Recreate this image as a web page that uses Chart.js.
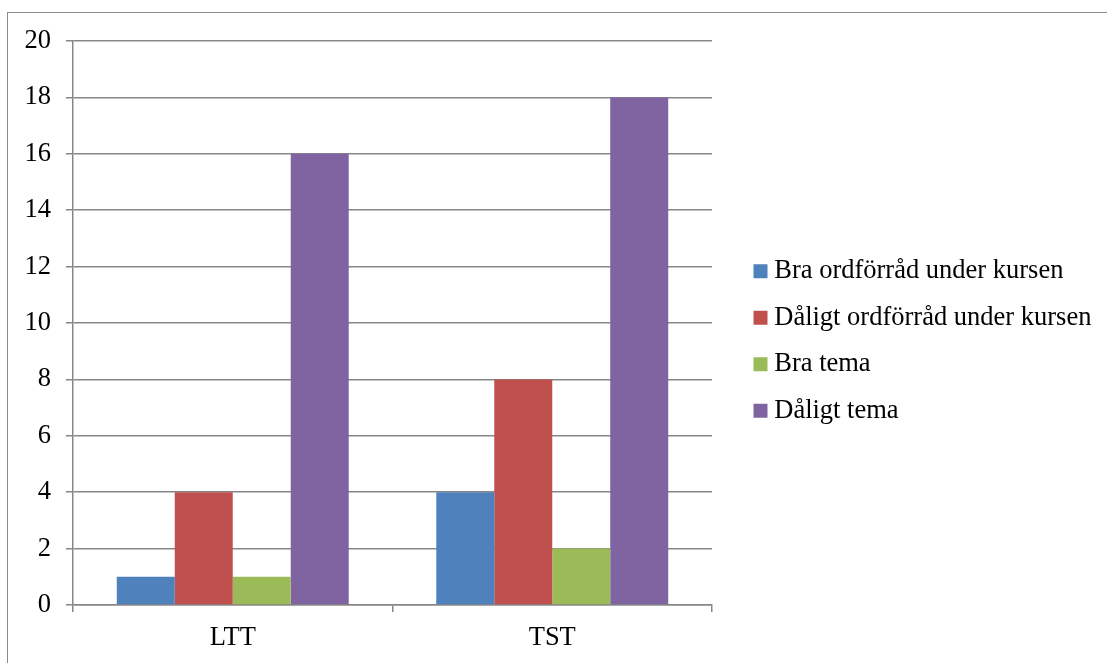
<!DOCTYPE html>
<html lang="sv">
<head>
<meta charset="utf-8">
<title>Ordförråd och tema</title>
<script src="https://cdn.jsdelivr.net/npm/chart.js@4/dist/chart.umd.min.js"></script>
<style>
    html, body { margin: 0; padding: 0; background: #fff; overflow: hidden; }
    #wrap { position: relative; width: 1107px; height: 663px; }
    #resultsChart { position: absolute; left: 0; top: 0; }
    /* outer chart frame, runs off the right and bottom edge */
    #frame {
        position: absolute; left: 7px; top: 12px;
        width: 1120px; height: 680px;
        border: 1px solid #8a8a8a;
        pointer-events: none;
    }
</style>
</head>
<body>
<div id="wrap">
    <canvas id="resultsChart" width="1107" height="663"></canvas>
    <div id="frame"></div>
</div>
<script>
const categories = ['LTT', 'TST'];
const seriesNames = [
    'Bra ordförråd under kursen',
    'Dåligt ordförråd under kursen',
    'Bra tema',
    'Dåligt tema'
];
const braOrdforrad = [1, 4];
const daligtOrdforrad = [4, 8];
const braTema = [1, 2];
const daligtTema = [16, 18];
const yTicks = [0, 2, 4, 6, 8, 10, 12, 14, 16, 18, 20];

const colors = ['#4F81BD', '#C0504D', '#9BBB59', '#8064A2'];
const gridColor = '#878787';
const FONT = "'Liberation Serif', 'Times New Roman', serif";
const FONT_SIZE = 26.5;

// legend sits a bit away from the plot, and is given a fixed width
const LEGEND_W = 355;
const LEGEND_SHIFT_X = 28;
const LEGEND_SHIFT_Y = -11;

const legendLayout = {
    id: 'legendLayout',
    beforeLayout(chart) {
        const legend = chart.legend;
        if (!legend || legend._fixedFit) return;
        const fit = legend.fit;
        legend.fit = function () {
            fit.call(this);
            this.width = LEGEND_W;
        };
        legend._fixedFit = true;
    },
    afterLayout(chart) {
        const legend = chart.legend;
        if (!legend) return;
        legend.left += LEGEND_SHIFT_X;
        legend.right += LEGEND_SHIFT_X;
        legend.top += LEGEND_SHIFT_Y;
        legend.bottom += LEGEND_SHIFT_Y;
    }
};

const values = [braOrdforrad, daligtOrdforrad, braTema, daligtTema];
const datasets = seriesNames.map((name, i) => ({
    label: name,
    data: values[i],
    backgroundColor: colors[i],
    borderWidth: 0
}));

const ctx = document.getElementById('resultsChart');

new Chart(ctx, {
    type: 'bar',
    data: { labels: categories, datasets },
    plugins: [legendLayout],
    options: {
        responsive: false,
        animation: false,
        devicePixelRatio: 1,
        layout: { padding: { left: 0, top: 41, right: 40, bottom: 0 } },
        datasets: {
            bar: { categoryPercentage: 0.726, barPercentage: 1 }
        },
        scales: {
            x: {
                grid: {
                    offset: true,
                    drawOnChartArea: false,
                    color: gridColor,
                    lineWidth: 1.5,
                    tickLength: 7
                },
                border: { color: gridColor, width: 1.5 },
                ticks: {
                    color: '#000',
                    padding: 10,
                    font: { family: FONT, size: FONT_SIZE }
                },
                afterFit(scale) { scale.height = 58; }
            },
            y: {
                min: 0,
                max: 20,
                afterBuildTicks(scale) {
                    scale.ticks = yTicks.map(v => ({ value: v }));
                },
                grid: {
                    color: gridColor,
                    lineWidth: 1.5,
                    tickLength: 7
                },
                border: { color: gridColor, width: 1.5 },
                ticks: {
                    color: '#000',
                    padding: 15,
                    font: { family: FONT, size: FONT_SIZE }
                },
                afterFit(scale) { scale.width = 73; }
            }
        },
        plugins: {
            legend: {
                position: 'right',
                align: 'center',
                labels: {
                    usePointStyle: true,
                    pointStyle: 'rect',
                    boxWidth: 1,
                    boxHeight: 14,
                    padding: 20,
                    color: '#000',
                    font: { family: FONT, size: FONT_SIZE }
                }
            },
            title: { display: false },
            tooltip: { enabled: false }
        }
    }
});
</script>
</body>
</html>
